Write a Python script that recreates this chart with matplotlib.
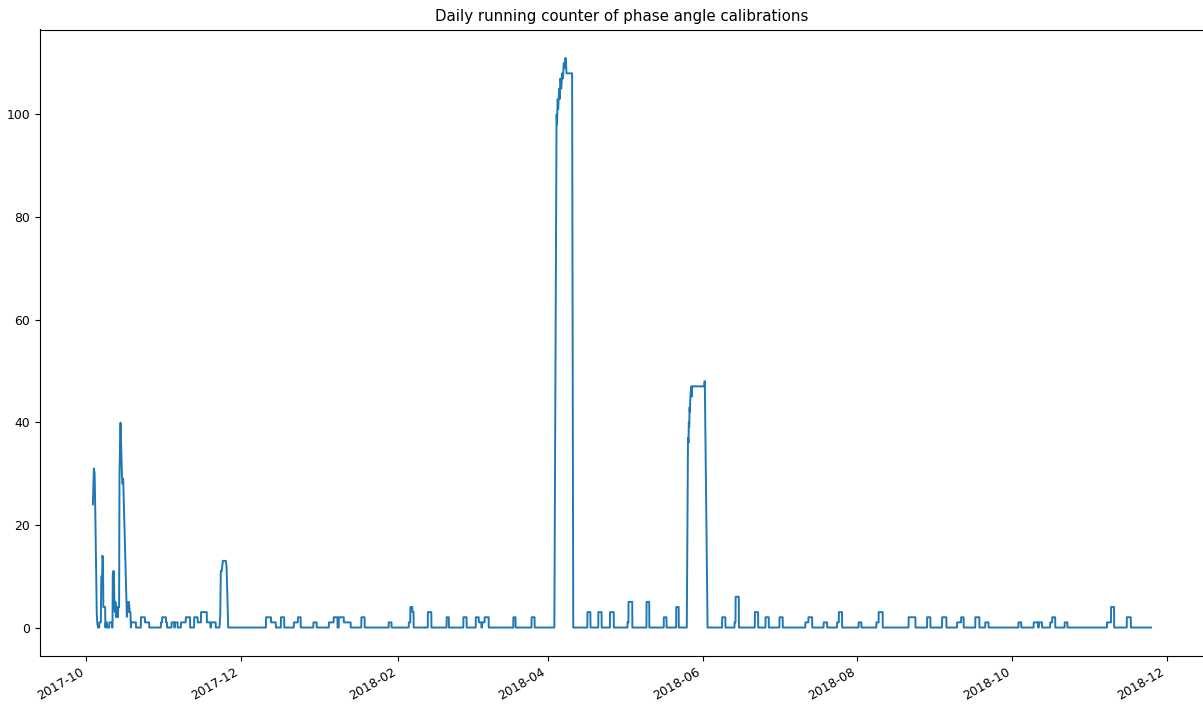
import numpy as np
import pandas as pd
import matplotlib
matplotlib.use("Agg")
import matplotlib.pyplot as plt
import matplotlib.dates as mdates

# ---------------- data (days elapsed since record_origin) ----------------
record_origin = "2017-10-01"
record_first_day = 2.72
record_last_day = 419.8

# plateau segments of the running counter: start day, end day, count
seg_start = [17.7, 21.6, 23.2, 29.5, 30.0, 31.5, 33.7, 35.0, 37.4, 39.3, 42.6, 44.0,
             45.3, 47.6, 49.3, 70.9, 72.9, 76.8, 81.9, 83.5, 89.6, 95.7, 97.6, 99.6,
             101.6, 108.5, 119.3, 127.2, 127.8, 128.6, 134.7, 142.1, 148.7, 153.6,
             154.8, 156.1, 157.1, 168.4, 175.6, 197.6, 201.9, 206.5, 213.4, 213.8,
             220.9, 227.7, 232.6, 250.7, 255.6, 256.0, 263.6, 267.8, 273.3, 283.5,
             284.7, 290.7, 296.0, 296.7, 304.5, 311.5, 312.4, 324.2, 331.5, 337.4,
             343.3, 344.9, 350.5, 354.4, 367.5, 373.5, 375.5, 380.0, 380.8, 385.7,
             402.4, 404.0, 410.2]
seg_end = [19.65, 23.2, 24.9, 30.0, 31.5, 31.9, 34.8, 36.1, 39.3, 41.0, 44.0, 45.3,
           47.6, 49.0, 51.1, 72.9, 74.8, 78.1, 83.5, 84.6, 90.9, 97.6, 99.1, 101.6,
           104.3, 109.8, 120.4, 127.8, 128.6, 129.1, 136.1, 143.0, 150.0, 154.8,
           155.8, 157.1, 158.7, 169.3, 176.8, 198.8, 203.2, 208.0, 213.8, 215.3,
           222.0, 228.8, 233.6, 252.0, 256.0, 257.3, 264.9, 269.1, 274.6, 284.7,
           286.2, 292.1, 296.7, 298.0, 305.6, 312.4, 314.0, 326.9, 332.8, 339.1,
           344.9, 345.9, 352.1, 355.7, 368.6, 375.3, 376.8, 380.8, 382.0, 386.8,
           404.0, 405.2, 411.8]
seg_count = [1, 2, 1, 1, 2, 1, 1, 1, 1, 2, 2, 1,
             3, 1, 1, 2, 1, 2, 1, 2, 1, 1, 2, 2,
             1, 2, 1, 1, 4, 3, 3, 2, 2, 2,
             1, 1, 2, 2, 2, 3, 3, 3, 1, 5,
             5, 2, 4, 2, 1, 6, 3, 2, 2, 1,
             2, 1, 1, 3, 1, 1, 3, 2, 2, 2,
             1, 2, 2, 1, 1, 1, 1, 1, 2, 1,
             1, 4, 2]

# bursts of calibrations (day, running count)
oct_days = [2.72, 2.90, 3.10, 3.40, 3.55, 3.62, 4.20, 4.40, 4.70, 5.20, 5.25, 5.85,
            6.00, 6.35, 6.50, 6.70, 6.78, 7.55, 7.60, 7.70, 7.75, 8.25, 8.30, 9.10,
            9.15, 10.20, 10.25, 10.45, 10.50, 10.70, 11.00, 11.15, 11.40, 11.60,
            11.90, 12.20, 12.50, 12.70, 13.05, 13.15, 13.35, 13.60, 13.85, 14.10,
            14.40, 14.65, 16.10, 16.30, 16.60, 16.90, 17.20, 17.50, 17.65]
oct_counts = [24, 28, 31, 30, 26, 24, 3, 1, 0, 0, 1, 1,
              10, 10, 14, 13, 4, 4, 0, 0, 1, 1, 0, 0,
              1, 1, 0, 0, 10, 11, 11, 4, 3, 5,
              2, 4, 2, 4, 4, 28, 35, 40, 36, 30,
              28, 29, 2, 5, 3, 5, 3, 3, 0]

nov_days = [52.6, 52.9, 53.1, 53.5, 53.9, 55.1, 55.4, 56.0]
nov_counts = [0, 2, 11, 11, 13, 13, 12, 0]

apr_days = [184.6, 185.4, 185.5, 185.65, 185.9, 186.1, 186.5, 186.7, 187.0, 187.3,
            187.7, 188.0, 188.3, 188.6, 189.0, 189.2, 189.35, 191.6, 192.0]
apr_counts = [0, 97, 100, 98, 103, 101, 105, 103, 107, 105,
              108, 107, 110, 109, 111, 110, 108, 108, 0]

jun_days = [236.8, 237.2, 237.35, 237.45, 237.6, 237.75, 237.9, 238.0, 238.2, 238.35,
            238.6, 238.75, 238.9, 243.7, 243.75, 243.9, 244.95]
jun_counts = [0, 35, 37, 36, 40, 39, 43, 42, 45, 46,
              47, 45, 47, 47, 48, 48, 0]

# ---------------- build the series ----------------
t = np.append(np.arange(record_first_day, record_last_day, 1 / 96), record_last_day)
v = np.zeros_like(t)
for s, e, c in zip(seg_start, seg_end, seg_count):
    v[(t >= s) & (t < e)] = c
for bd, bc in [(oct_days, oct_counts), (nov_days, nov_counts),
               (apr_days, apr_counts), (jun_days, jun_counts)]:
    m = (t >= bd[0]) & (t <= bd[-1])
    v[m] = np.interp(t[m], bd, bc)

times = pd.Timestamp(record_origin) + pd.to_timedelta(t, unit="D")

# ---------------- plot ----------------
W, H = 1203, 704
fig = plt.figure(figsize=(W / 100, H / 100), dpi=100)
ax = fig.add_axes([40 / W, (H - 656) / H, 1164 / W, 626.5 / H])
ax.plot(times, v, color="#1f77b4", linewidth=1.4)
ax.set_title("Daily running counter of phase angle calibrations", fontsize=10.8)
ax.xaxis.set_major_locator(mdates.MonthLocator(bymonth=[2, 4, 6, 8, 10, 12]))
ax.xaxis.set_major_formatter(mdates.DateFormatter("%Y-%m"))
ax.tick_params(labelsize=8.9)
for lbl in ax.get_xticklabels():
    lbl.set_rotation(30)
    lbl.set_ha("right")
fig.savefig("out.png", dpi=100)
